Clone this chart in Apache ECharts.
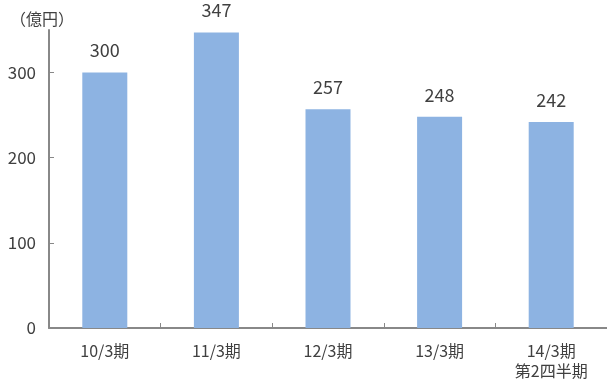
<!DOCTYPE html>
<html>
<head>
<meta charset="utf-8">
<script src="https://cdn.jsdelivr.net/npm/echarts@6/dist/echarts.min.js"></script>
<style>
  html, body { margin: 0; padding: 0; background: #ffffff; }
  #chart { width: 607px; height: 381px; }
</style>
</head>
<body>
<div id="chart"></div>
<script>
// Fiscal periods and amounts (100 million yen)
const categories = ['10/3期', '11/3期', '12/3期', '13/3期', '14/3期\n第2四半期'];
const values = [300, 347, 257, 248, 242];
const yTicks = [0, 100, 200, 300];
const unitLabel = '（億円）';

const FONT = '"Noto Sans CJK JP", sans-serif';
const TEXT = '#404040';
const AXIS = '#888888';

const chart = echarts.init(document.getElementById('chart'), null, { renderer: 'canvas' });
chart.setOption({
  animation: false,
  backgroundColor: '#ffffff',
  grid: { left: 49, top: 30, width: 561, height: 298, containLabel: false },
  graphic: [{
    type: 'text',
    left: 10,
    top: 11,
    style: { text: unitLabel, font: '16px ' + FONT, fill: TEXT }
  }],
  xAxis: {
    type: 'category',
    data: categories,
    axisLine: { lineStyle: { color: AXIS, width: 2 } },
    axisTick: { show: true, inside: true, length: 5, alignWithLabel: false, lineStyle: { color: AXIS, width: 1 } },
    axisLabel: { color: TEXT, fontFamily: FONT, fontSize: 16, margin: 13, lineHeight: 20 }
  },
  yAxis: {
    type: 'value',
    min: 0,
    max: 350,
    interval: 100,
    splitLine: { show: false },
    axisLine: { show: true, lineStyle: { color: AXIS, width: 2 } },
    axisTick: { show: true, inside: true, length: 5, customValues: yTicks, lineStyle: { color: AXIS, width: 1 } },
    axisLabel: { color: TEXT, fontFamily: FONT, fontSize: 17, margin: 13, customValues: yTicks }
  },
  series: [{
    type: 'bar',
    data: values,
    barWidth: 45,
    itemStyle: { color: '#8db3e2' },
    label: {
      show: true,
      position: 'top',
      distance: 13,
      color: TEXT,
      fontFamily: FONT,
      fontSize: 18
    }
  }]
});
</script>
</body>
</html>
